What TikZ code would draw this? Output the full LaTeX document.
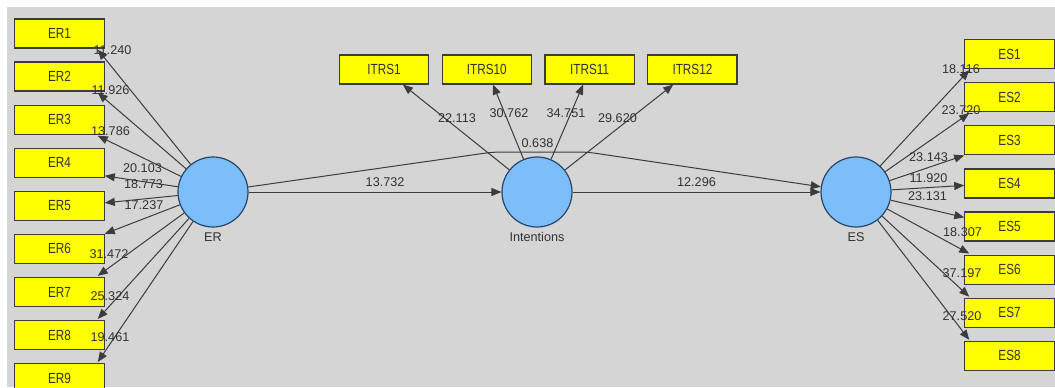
\documentclass[tikz,border=0pt]{standalone}
\usepackage{fontspec}
\setmainfont{Liberation Sans}
\newfontfamily\boxfont[FakeStretch=0.8]{Liberation Sans}
\usepackage{tikz}
\usetikzlibrary{arrows.meta,positioning}
\usepackage{xcolor}

\definecolor{canvas}{RGB}{213,213,213}
\definecolor{itemyellow}{RGB}{255,255,0}
\definecolor{boxline}{RGB}{60,60,60}
\definecolor{lvblue}{RGB}{124,190,250}
\definecolor{lvline}{RGB}{40,70,105}
\definecolor{arline}{RGB}{60,60,60}
\definecolor{txt}{RGB}{50,50,50}

\begin{document}
\begin{tikzpicture}[
  x=0.75pt,y=-0.75pt,
  font=\fontsize{9.5}{11}\selectfont,
  ind/.style={draw=boxline,fill=itemyellow,line width=0.9pt,minimum width=67pt,
              minimum height=21.75pt,inner sep=0pt,text=txt,
              font=\boxfont\fontsize{11}{12}\selectfont},
  lv/.style={circle,draw=lvline,fill=lvblue,line width=0.9pt,minimum size=52.5pt,
             inner sep=0pt,label distance=1.5pt},
  every label/.style={text=txt},
  ar/.style={-{Triangle[length=7.5pt,width=6pt]},draw=arline,line width=0.75pt},
  wt/.style={text=txt,inner sep=0pt}
]
% canvas
\useasboundingbox (0,0) rectangle (1055,387);
\fill[white] (0,0) rectangle (1055,387);
\fill[canvas] (7,7) rectangle (1055,387);

% latent variables
\node[lv,label=below:ER] (ER) at (213,192) {};
\node[lv,label=below:Intentions] (Int) at (537,192) {};
\node[lv,label=below:ES] (ES) at (856,192) {};

% ER indicators
\node[ind] (er1) at (59.5,33.5) {ER1};
\node[ind,below=9.66pt of er1] (er2) {ER2};
\node[ind,below=9.66pt of er2] (er3) {ER3};
\node[ind,below=9.66pt of er3] (er4) {ER4};
\node[ind,below=9.66pt of er4] (er5) {ER5};
\node[ind,below=9.66pt of er5] (er6) {ER6};
\node[ind,below=9.66pt of er6] (er7) {ER7};
\node[ind,below=9.66pt of er7] (er8) {ER8};
\node[ind,below=9.66pt of er8] (er9) {ER9};

% Intentions indicators
\node[ind] (i1) at (384,69.5) {ITRS1};
\node[ind,right=9.2pt of i1] (i10) {ITRS10};
\node[ind,right=9.2pt of i10] (i11) {ITRS11};
\node[ind,right=9.2pt of i11] (i12) {ITRS12};

% ES indicators
\node[ind] (es1) at (1009.5,54) {ES1};
\node[ind,below=9.7pt of es1] (es2) {ES2};
\node[ind,below=9.7pt of es2] (es3) {ES3};
\node[ind,below=9.7pt of es3] (es4) {ES4};
\node[ind,below=9.7pt of es4] (es5) {ES5};
\node[ind,below=9.7pt of es5] (es6) {ES6};
\node[ind,below=9.7pt of es6] (es7) {ES7};
\node[ind,below=9.7pt of es7] (es8) {ES8};

% outer loadings
\foreach \i/\a/\dx/\dy/\lx/\ly/\w in {
  1/south east/-7/1/112.5/50/11.240,
  2/south east/-7/1/110.5/90.5/11.926,
  3/south east/-7/1/110.5/131.5/13.786,
  4/south east/0/-2/142.5/168/20.103,
  5/east/0/-3/143.5/184/18.773,
  6/north east/0/0/144/205/17.237,
  7/north east/-7/-1/109/254/31.472,
  8/north east/-7/-1/110/296/25.324,
  9/north east/-7/-1/110/337/19.461}
{\draw[ar] (ER) -- ([shift={(\dx,\dy)}]er\i.\a);
 \node[wt] (r\i) at (\lx,\ly) {\w};}

\foreach \i/\a/\dx/\dy/\lx/\ly/\w in {
  1/south west/5/1/961/69/18.116,
  2/south west/5/1/961/110/23.720,
  3/south west/0/0/928.5/157/23.143,
  4/west/0/2/928.5/178/11.920,
  5/north west/0/6/927.5/196/23.131,
  6/north west/5/-1/962.5/232/18.307,
  7/north west/5/-1/962/273/37.197,
  8/north west/5/-1/962/316/27.520}
{\draw[ar] (ES) -- ([shift={(\dx,\dy)}]es\i.\a);
 \node[wt] (s\i) at (\lx,\ly) {\w};}

\foreach \n in {i1,i10,i11,i12}{\draw[ar] (Int) -- (\n);}
\node[wt] (t1) at (457,118) {22.113};
\node[wt] (t10) at (509,113) {30.762};
\node[wt] (t11) at (566,113) {34.751};
\node[wt] (t12) at (617.5,118) {29.620};

% structural paths
\coordinate (k1) at (493,152);
\coordinate (k2) at (587,152);
\draw[ar] (ER) -- node[wt,pos=0.54,above=3.3pt] (p1) {13.732} (Int);
\draw[ar] (Int) -- node[wt,pos=0.5,above=3.3pt] (p2) {12.296} (ES);
\draw[ar,rounded corners=6pt] (ER) -- (k1) -- (k2) -- (ES);
\node[wt] (p3) at (537.5,143.5) {0.638};
\end{tikzpicture}
\end{document}
